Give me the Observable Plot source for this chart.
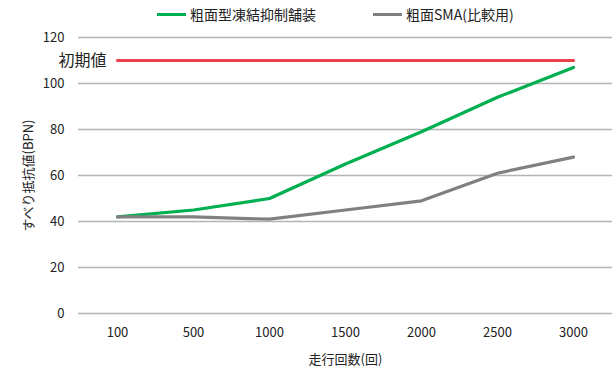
<!DOCTYPE html>
<html><head><meta charset="utf-8">
<script src="https://cdn.jsdelivr.net/npm/d3@7"></script>
<script src="https://cdn.jsdelivr.net/npm/@observablehq/plot@0.6"></script>
<style>
body{margin:0;background:#fff;font-family:"Noto Sans CJK JP","Noto Sans",sans-serif;}
#wrap{width:616px;}
#legend{height:28px;position:relative;font-size:14px;color:#222;}
.item{position:absolute;top:4px;display:flex;align-items:center;}
.sw{width:29px;height:3px;margin-right:4px;}
</style></head>
<body><div id="wrap"><div id="legend"></div><div id="chart"></div></div>
<script>
const categories = ["100","500","1000","1500","2000","2500","3000"];
const seriesNames = ["粗面型凍結抑制舗装","粗面SMA(比較用)"];
const greenValues = [42,45,50,65,79,94,107];
const grayValues = [42,42,41,45,49,61,68];
const initialValue = 110;
const initialLabel = "初期値";
const yTicks = [0,20,40,60,80,100,120];
const colors = ["#00b050","#808080"];
const refColor = "#ee3f4c";

const rows = [];
categories.forEach((c,i)=>{
  rows.push({x:c,y:greenValues[i],s:seriesNames[0]});
  rows.push({x:c,y:grayValues[i],s:seriesNames[1]});
});
const refRows = [{x:categories[0],y:initialValue},{x:categories[categories.length-1],y:initialValue}];

const legend = document.getElementById("legend");
const legendLeft = [157,373];
seriesNames.forEach((n,i)=>{
  const d=document.createElement("div");d.className="item";d.style.left=legendLeft[i]+"px";
  d.innerHTML=`<div class="sw" style="background:${colors[i]}"></div><span>${n}</span>`;
  legend.appendChild(d);
});

const plot = Plot.plot({
  width:616, height:342,
  marginTop:9, marginBottom:57, marginLeft:78, marginRight:4,
  style:{fontFamily:'"Noto Sans CJK JP","Noto Sans",sans-serif',fontSize:"13px",color:"#222"},
  x:{type:"point",domain:categories,padding:0.5,label:null},
  y:{domain:[0,120],ticks:yTicks,label:null},
  color:{domain:seriesNames,range:colors},
  marks:[
    Plot.ruleY(yTicks,{stroke:"#b4b4b4",strokeWidth:1.3}),
    Plot.axisY({ticks:yTicks,tickSize:0,tickPadding:14,label:"すべり抵抗値(BPN)",labelAnchor:"center",labelArrow:"none",labelOffset:55,fontSize:13}),
    Plot.axisX({tickSize:0,tickPadding:14,label:"走行回数(回)",labelAnchor:"center",labelArrow:"none",labelOffset:50,fontSize:13}),
    Plot.lineY(refRows,{x:"x",y:"y",stroke:refColor,strokeWidth:3.2}),
    Plot.text([refRows[0]],{x:"x",y:"y",text:()=>initialLabel,textAnchor:"end",dx:-11,fontSize:16,fill:"#222"}),
    Plot.lineY(rows,{x:"x",y:"y",z:"s",stroke:"s",strokeWidth:3.2})
  ]
});
document.getElementById("chart").appendChild(plot);
</script></body></html>
